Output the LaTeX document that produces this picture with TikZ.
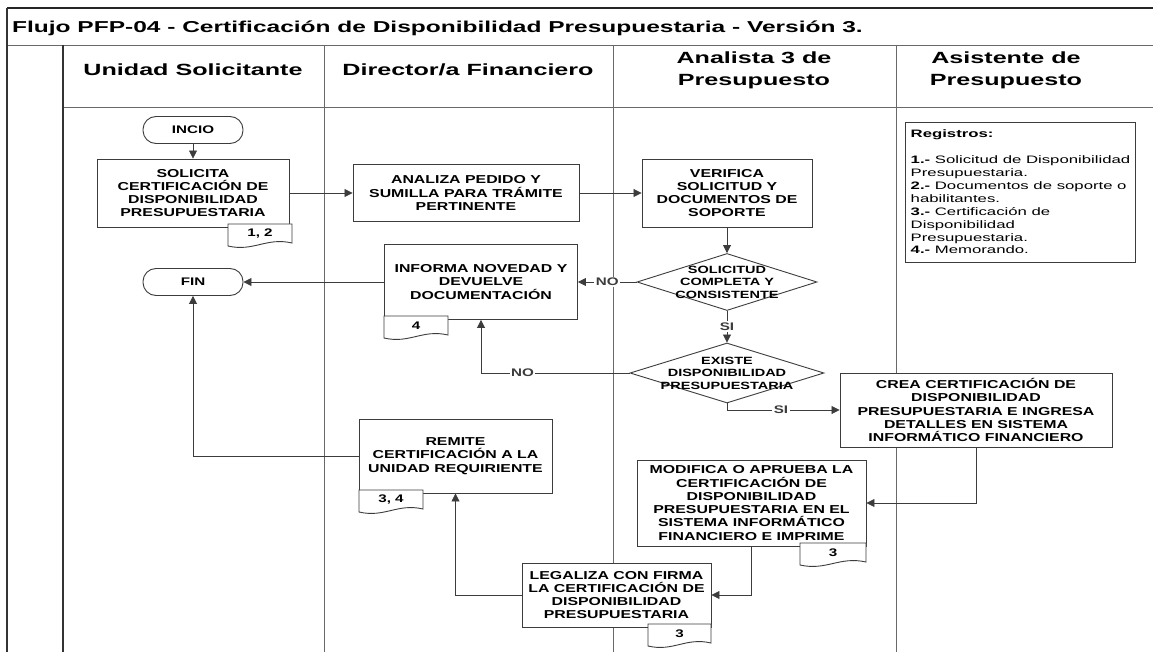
\documentclass[tikz,border=0pt]{standalone}
\usepackage{fontspec}
\setmainfont{Liberation Sans}[FakeStretch=1.38]
\newfontfamily\widefont{Liberation Sans}[FakeStretch=1.55]
\usetikzlibrary{arrows.meta,shapes.geometric,calc}
\definecolor{flline}{RGB}{60,60,60}
\definecolor{fllane}{RGB}{105,105,105}
\tikzset{
  pbox/.style={rectangle, draw=flline, fill=white, line width=0.9pt, align=center,
               font=\bfseries\fontsize{11.5}{13.3}\selectfont, inner sep=0pt},
  pterm/.style={pbox, rounded corners=13pt, minimum width=100pt, minimum height=27pt,
                font=\bfseries\fontsize{11}{13}\selectfont},
  pdec/.style={diamond, draw=flline, fill=white, line width=0.9pt, inner sep=0pt},
  pdtxt/.style={align=center, inner sep=0pt, font=\bfseries\fontsize{10.5}{12.5}\selectfont},
  pdoc/.style={draw=flline, fill=white, line width=0.9pt},
  ptab/.style={inner sep=0pt, font=\bfseries\fontsize{11}{13}\selectfont},
  plbl/.style={fill=white, inner sep=1.5pt, font=\bfseries\fontsize{11}{13}\selectfont},
  parr/.style={-{Triangle[length=8pt,width=8pt]}, line width=0.8pt, flline},
  plane/.style={line width=0.8pt, fllane},
  phead/.style={align=center, inner sep=0pt, font=\widefont\bfseries\fontsize{16.2}{22}\selectfont},
}
\newcommand{\regdoc}[5]{%
  \draw[pdoc] (#2,#3) -- ({#2+#4},#3) -- ({#2+#4},{#3+19}) .. controls ({#2+0.6*#4},{#3+13}) and ({#2+0.4*#4},{#3+28}) .. (#2,{#3+22}) -- cycle;
  \node[ptab](#1) at ({#2+#4/2},{#3+10}){#5};}

\begin{document}
\begin{tikzpicture}[x=1pt,y=-1pt]
    \path[fill=white] (0,0) rectangle (1153,652);
    \useasboundingbox (0,0) rectangle (1153,652);
    \draw[line width=1.5pt,black!85] (7,8) -- (1153,8);
    \draw[plane] (7,45) -- (1153,45);\draw[plane] (63,107) -- (1153,107);
    \draw[line width=1.2pt,black!80] (7,8) -- (7,652);\draw[line width=1.1pt,black!80] (63,45) -- (63,652);
    \draw[plane] (324,45) -- (324,652);\draw[plane] (613,45) -- (613,652);\draw[plane] (896,45) -- (896,652);
    \node[anchor=west,inner sep=0pt,font=\widefont\bfseries\fontsize{15.8}{19}\selectfont](ttl) at (12,28){Flujo PFP-04 - Certificación de Disponibilidad Presupuestaria - Versión 3.};
    \node[phead](hus) at (193,70){Unidad Solicitante};
    \node[phead](hdf) at (468,70){Director/a Financiero};
    \node[phead](han) at (754,70){Analista 3 de\\Presupuesto};
    \node[phead](has) at (1006,70){Asistente de\\Presupuesto};
    \node[pterm](ini) at (193,130){INCIO};
    \node[pbox,minimum width=192pt,minimum height=68pt](sol) at (193,193){SOLICITA\\CERTIFICACIÓN DE\\DISPONIBILIDAD\\PRESUPUESTARIA};
    \node[pbox,minimum width=226pt,minimum height=57pt](ana) at (466,193){ANALIZA PEDIDO Y\\SUMILLA PARA TRÁMITE\\PERTINENTE};
    \node[pbox,minimum width=170pt,minimum height=68pt](ver) at (727,193){VERIFICA\\SOLICITUD Y\\DOCUMENTOS DE\\SOPORTE};
    \node[pdec,minimum width=180pt,minimum height=57pt,label={[pdtxt]center:{SOLICITUD\\COMPLETA Y\\CONSISTENTE}}](dq1) at (727,282){};
    \node[pbox,minimum width=193pt,minimum height=75pt](inf) at (481,282){INFORMA NOVEDAD Y\\DEVUELVE\\DOCUMENTACIÓN};
    \node[pterm](fin) at (193,282){FIN};
    \node[pdec,minimum width=194pt,minimum height=60pt,label={[pdtxt]center:{EXISTE\\DISPONIBILIDAD\\PRESUPUESTARIA}}](dq2) at (727,373){};
    \node[pbox,minimum width=272pt,minimum height=74pt](cre) at (976,410){CREA CERTIFICACIÓN DE\\DISPONIBILIDAD\\PRESUPUESTARIA E INGRESA\\DETALLES EN SISTEMA\\INFORMÁTICO FINANCIERO};
    \node[pbox,minimum width=229pt,minimum height=86pt](mod) at (751.5,503){MODIFICA O APRUEBA LA\\CERTIFICACIÓN DE\\DISPONIBILIDAD\\PRESUPUESTARIA EN EL\\SISTEMA INFORMÁTICO\\FINANCIERO E IMPRIME};
    \node[pbox,minimum width=189pt,minimum height=64pt](leg) at (616.5,595){LEGALIZA CON FIRMA\\LA CERTIFICACIÓN DE\\DISPONIBILIDAD\\PRESUPUESTARIA};
    \node[pbox,minimum width=193pt,minimum height=74pt](rem) at (455.5,456){REMITE\\CERTIFICACIÓN A LA\\UNIDAD REQUIRIENTE};
    \node[pbox,minimum width=227pt,minimum height=140pt,inner sep=5pt,align=left,font=\widefont\fontsize{10.8}{12.9}\selectfont](reg) at (1020.5,192){\textbf{Registros:}\\[12.9pt]\textbf{1.-} Solicitud de Disponibilidad\\Presupuestaria.\\\textbf{2.-} Documentos de soporte o\\habilitantes.\\\textbf{3.-} Certificación de\\Disponibilidad\\Presupuestaria.\\\textbf{4.-} Memorando.};
    \regdoc{dsol}{228}{224}{64}{1, 2}
    \regdoc{dinf}{384}{316}{64}{4}
    \regdoc{dmod}{800}{543}{66}{3}
    \regdoc{dleg}{648}{624}{63}{3}
    \regdoc{drem}{359}{490}{64}{3, 4}
    \draw[parr](ini)--(sol);\draw[parr](sol)--(ana);\draw[parr](ana)--(ver);\draw[parr](ver)--(dq1);
    \draw[parr](dq1)--node[plbl]{NO}(inf);\draw[parr](inf)--(fin);
    \draw[parr](dq1)--node[plbl]{SI}(dq2);
    \draw[parr](dq2.west)-|node[plbl,pos=0.36]{NO}(inf.south);
    \draw[parr](dq2.south)|-node[plbl,pos=0.74]{SI}(cre.west);
    \draw[parr](cre.south)|-(mod.east);\draw[parr](mod.south)|-(leg.east);
    \draw[parr](leg.west)-|(rem.south);\draw[parr](rem.west)-|(fin.south);
\end{tikzpicture}
\end{document}
